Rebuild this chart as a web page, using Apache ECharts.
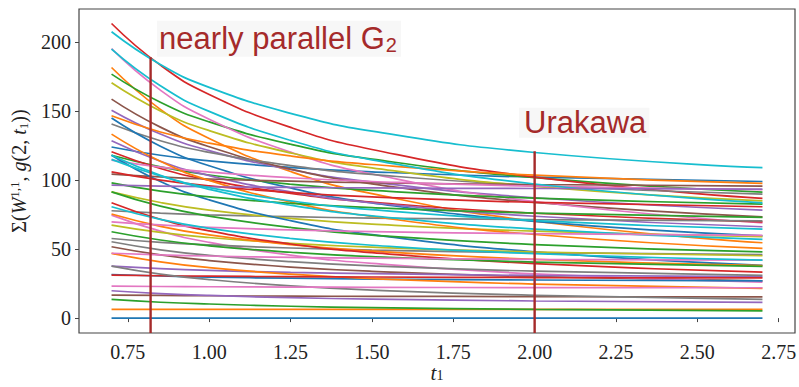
<!DOCTYPE html>
<html>
<head>
<meta charset="utf-8">
<script src="https://cdn.jsdelivr.net/npm/echarts@6/dist/echarts.min.js"></script>
<style>
html,body{margin:0;padding:0;background:#fff;}
#chart{width:799px;height:387px;}
</style>
</head>
<body>
<div id="chart"></div>
<script>
// sample positions along t1
const tValues = [0.7, 0.85, 1.0, 1.25, 1.5, 2.0, 2.7];

// curves grouped by colour (values at tValues)
const blueCurves = [
  [124, 118, 113.9, 109.2, 106, 102.1, 99],
  [145, 124.6, 110.4, 94.3, 83.5, 70.1, 59.6],
  [118, 99, 85.7, 70.6, 60.5, 48, 38.2],
  [31.6, 30.5, 29.7, 28.9, 28.3, 27.6, 27],
  [0, 0, 0, 0, 0, 0, 0]
];
const orangeCurves = [
  [181.6, 151.3, 130.2, 106.2, 90.2, 70.2, 54.6],
  [146.6, 134.9, 126.8, 117.5, 111.3, 103.6, 97.6],
  [133.3, 113.6, 99.8, 84.1, 73.7, 60.6, 50.5],
  [75.4, 66.5, 60.3, 53.2, 48.5, 42.6, 38],
  [46.9, 40.8, 36.6, 31.8, 28.6, 24.6, 21.5],
  [6.3, 6.3, 6.3, 6.3, 6.3, 6.3, 6.3]
];
const greenCurves = [
  [176.8, 156.4, 142.2, 126, 115.2, 101.8, 91.3],
  [118, 109.6, 103.7, 97, 92.5, 86.9, 82.6],
  [98, 92, 87.9, 83.2, 80, 76.1, 73],
  [91.5, 81.1, 73.9, 65.7, 60.2, 53.3, 48],
  [62.6, 56.6, 52.4, 47.7, 44.5, 40.6, 37.5],
  [13.5, 11.5, 10.2, 8.6, 7.6, 6.3, 5.3]
];
const redCurves = [
  [213.5, 183.3, 162.1, 138.2, 122.2, 102.2, 86.7],
  [120.5, 108.4, 100, 90.4, 84, 76, 69.8],
  [106, 100, 95.8, 91, 87.8, 83.8, 80.7],
  [83.6, 71.6, 63.2, 53.7, 47.4, 39.5, 33.3],
  [31.2, 30.7, 30.4, 30, 29.8, 29.4, 29.2]
];
const purpleCurves = [
  [150.7, 133.4, 121.4, 107.7, 98.6, 87.2, 78.3],
  [128.5, 113.7, 103.3, 91.5, 83.6, 73.8, 66.2],
  [96.4, 95.7, 95.2, 94.7, 94.3, 93.9, 93.5],
  [37.7, 35.9, 34.6, 33.1, 32.2, 30.9, 30],
  [19.8, 17.8, 16.4, 14.8, 13.8, 12.4, 11.4]
];
const brownCurves = [
  [158.7, 138.4, 124.2, 108, 97.3, 83.8, 73.4],
  [104.3, 102.3, 100.8, 99.2, 98.1, 96.8, 95.7],
  [51.7, 45.8, 41.7, 37, 33.9, 30, 27],
  [16.7, 16.4, 16.2, 15.9, 15.8, 15.6, 15.4]
];
const pinkCurves = [
  [195.3, 165.2, 144.1, 120.3, 104.4, 84.5, 69],
  [114.5, 109.4, 105.8, 101.7, 99, 95.6, 93],
  [74.6, 63, 54.9, 45.7, 39.6, 32, 26],
  [69.8, 67.5, 65.8, 64, 62.7, 61.2, 60],
  [47, 45.8, 45, 44, 43.4, 42.6, 42],
  [23.2, 22.9, 22.7, 22.5, 22.3, 22.1, 22]
];
const grayCurves = [
  [140.6, 128.5, 120.1, 110.5, 104.1, 96.1, 89.9],
  [77.8, 76.1, 74.8, 73.5, 72.5, 71.4, 70.5],
  [57.7, 54.9, 53, 50.8, 49.3, 47.4, 46],
  [55.3, 49.5, 45.5, 40.9, 37.8, 34, 31],
  [37.7, 31.9, 27.9, 23.3, 20.3, 16.5, 13.5]
];
const oliveCurves = [
  [170.5, 150.1, 135.9, 119.7, 108.9, 95.5, 85],
  [91.5, 83.8, 78.3, 72.2, 68.1, 63, 59],
  [67.4, 62.1, 58.4, 54.2, 51.4, 47.9, 45.2]
];
const cyanCurves = [
  [207.5, 183.8, 167.2, 148.4, 135.5, 120, 109],
  [195, 168.4, 149.8, 128.8, 114.7, 97.2, 83.5],
  [118, 103.5, 93.3, 81.8, 74.1, 64.5, 57],
  [115, 103, 94.5, 85, 78.6, 70.7, 64.5],
  [80.7, 71.5, 65, 57.7, 52.8, 46.7, 42]
];

// vertical markers
const markerT = [0.82, 2.0];
const markerTop = [189, 121];
const markerLabels = ['nearly parallel', 'Urakawa'];

// tick labels
const xTicks = [0.75, 1.00, 1.25, 1.50, 1.75, 2.00, 2.25, 2.50, 2.75];
const yTicks = [0, 50, 100, 150, 200];

const groups = [
  {c: '#1f77b4', d: blueCurves},
  {c: '#ff7f0e', d: orangeCurves},
  {c: '#2ca02c', d: greenCurves},
  {c: '#d62728', d: redCurves},
  {c: '#9467bd', d: purpleCurves},
  {c: '#8c564b', d: brownCurves},
  {c: '#e377c2', d: pinkCurves},
  {c: '#7f7f7f', d: grayCurves},
  {c: '#bcbd22', d: oliveCurves},
  {c: '#17becf', d: cyanCurves}
];

const Y_MIN = -10.8, Y_MAX = 224;
const MARK = '#a52a2a';

const series = [];
const maxLen = Math.max(...groups.map(g => g.d.length));
for (let k = 0; k < maxLen; k++) {
  groups.forEach(g => {
    if (k < g.d.length) {
      const vals = g.d[k];
      series.push({
        type: 'line',
        data: tValues.map((t, i) => [t, vals[i]]),
        smooth: 0.5,
        showSymbol: false,
        silent: true,
        lineStyle: {width: 1.7, color: g.c},
        itemStyle: {color: g.c},
        z: 2
      });
    }
  });
}
markerT.forEach((t, i) => {
  series.push({
    type: 'line',
    data: [[t, Y_MIN], [t, markerTop[i]]],
    showSymbol: false,
    silent: true,
    lineStyle: {width: 2.4, color: MARK},
    z: 3
  });
});

const serif = "'Liberation Serif', 'Times New Roman', serif";
const sans = "'Liberation Sans', Arial, sans-serif";
const chart = echarts.init(document.getElementById('chart'), null, {renderer: 'svg'});
chart.setOption({
  animation: false,
  backgroundColor: '#fff',
  grid: {left: 79, right: 4, top: 9, bottom: 54, containLabel: false, outerBoundsMode: 'none',
         show: true, borderColor: '#444', borderWidth: 1.2, backgroundColor: 'transparent'},
  xAxis: {
    type: 'value', min: 0.6, max: 2.8,
    axisLine: {show: false},
    splitLine: {show: false},
    axisTick: {show: true, customValues: xTicks, length: 4, lineStyle: {color: '#444', width: 1}},
    axisLabel: {customValues: xTicks, formatter: v => v.toFixed(2), fontFamily: serif, fontSize: 20, color: '#222', margin: 9},
    name: '{i|t}{s|1}',
    nameLocation: 'middle',
    nameMoveOverlap: false,
    nameGap: 30,
    nameTextStyle: {
      rich: {
        i: {fontFamily: serif, fontStyle: 'italic', fontSize: 21, color: '#222', lineHeight: 19},
        s: {fontFamily: serif, fontSize: 14, color: '#222', lineHeight: 11, verticalAlign: 'bottom'}
      }
    }
  },
  yAxis: {
    type: 'value', min: Y_MIN, max: Y_MAX,
    axisLine: {show: false},
    splitLine: {show: false},
    axisTick: {show: true, customValues: yTicks, length: 4, lineStyle: {color: '#444', width: 1}},
    axisLabel: {customValues: yTicks, formatter: v => String(v), fontFamily: serif, fontSize: 20, color: '#222', margin: 8},
    name: '{n|Σ(}{i|W}{sup|1,1}{n|, }{i|g}{n|(2, }{i|t}{sub|1}{n|))}',
    nameLocation: 'middle',
    nameMoveOverlap: false,
    nameRotate: 90,
    nameGap: 46,
    nameTextStyle: {
      rich: {
        n: {fontFamily: serif, fontSize: 20, color: '#222', lineHeight: 28},
        i: {fontFamily: serif, fontStyle: 'italic', fontSize: 20, color: '#222', lineHeight: 28},
        sup: {fontFamily: serif, fontSize: 13, color: '#222', lineHeight: 28, padding: [0, 0, 10, 0]},
        sub: {fontFamily: serif, fontSize: 13, color: '#222', lineHeight: 28, padding: [8, 0, 0, 0]}
      }
    }
  },
  series: series
});

// annotations anchored to data coordinates
const p1 = chart.convertToPixel({gridIndex: 0}, [0.84, 215.5]);
const p2 = chart.convertToPixel({gridIndex: 0}, [1.952, 152.5]);
chart.setOption({
  graphic: [
    {
      type: 'text', x: p1[0], y: p1[1], z: 10,
      style: {
        text: '{m|' + markerLabels[0] + ' G}{s|2}',
        rich: {
          m: {fontFamily: sans, fontSize: 31, fill: MARK, lineHeight: 36},
          s: {fontFamily: sans, fontSize: 20, fill: MARK, lineHeight: 36, padding: [12, 0, 0, 1]}
        },
        backgroundColor: '#f7f7f7',
        padding: [0, 4, 0, 2]
      }
    },
    {
      type: 'text', x: p2[0], y: p2[1], z: 10,
      style: {
        text: markerLabels[1],
        fontFamily: sans, fontSize: 31, fill: MARK, lineHeight: 30,
        backgroundColor: '#f7f7f7',
        padding: [0, 3, 0, 5]
      }
    }
  ]
});
</script>
</body>
</html>
